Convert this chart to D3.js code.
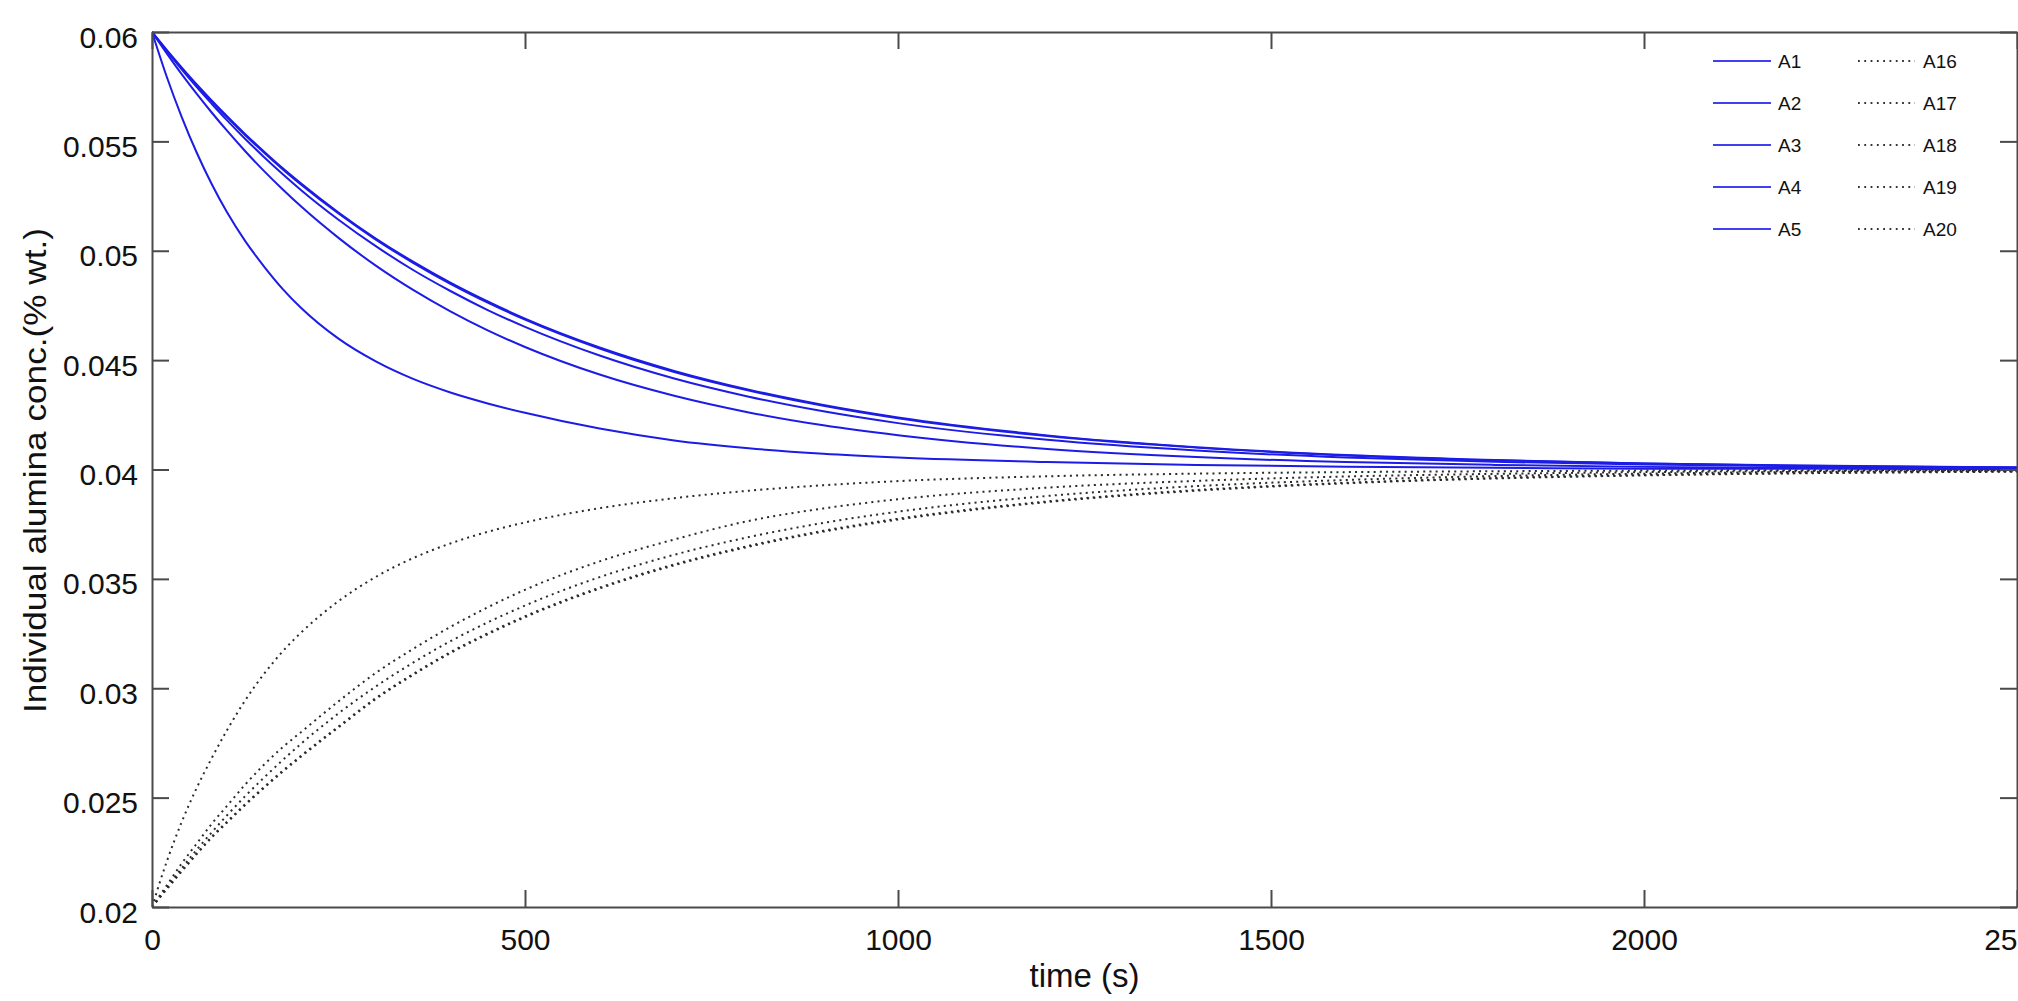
<!DOCTYPE html>
<html>
<head>
<meta charset="utf-8">
<script src="https://cdnjs.cloudflare.com/ajax/libs/d3/7.8.5/d3.min.js"></script>
<style>
  html, body { margin: 0; padding: 0; background: #fff; overflow: hidden; }
  #chart { width: 2018px; height: 1001px; overflow: hidden; }
  text { font-family: "Liberation Sans", Arial, Helvetica, sans-serif; fill: #111; }
</style>
</head>
<body>
<div id="chart"></div>
<script>
/*** DATA *********************************************************************/

const timeS = [0, 20, 40, 60, 80, 100, 125, 150, 175, 200, 250, 300, 350, 400,
  450, 500, 600, 700, 800, 900, 1000, 1200, 1400, 1600, 1800, 2000, 2250, 2500];

// blue solid series (start at 0.06)
const blueNames = ["A1", "A2", "A3", "A4", "A5"];
const a1 = [0.06, 0.05917, 0.05837, 0.0576, 0.05687, 0.05617, 0.05533, 0.05454, 0.05378, 0.05307,
  0.05175, 0.05056, 0.0495, 0.04854, 0.04768, 0.0469, 0.04558, 0.04451, 0.04365, 0.04295,
  0.04238, 0.04156, 0.04102, 0.04066, 0.04043, 0.04028, 0.04017, 0.0401];
const a2 = [0.06, 0.05914, 0.05833, 0.05756, 0.05683, 0.05612, 0.05528, 0.05449, 0.05373, 0.05302,
  0.0517, 0.05051, 0.04945, 0.04849, 0.04763, 0.04685, 0.04553, 0.04446, 0.04361, 0.04291,
  0.04234, 0.04153, 0.041, 0.04064, 0.04042, 0.04027, 0.04016, 0.04009];
const a3 = [0.06, 0.05912, 0.05828, 0.05748, 0.05672, 0.05598, 0.05511, 0.05429, 0.05351, 0.05277,
  0.05142, 0.05021, 0.04912, 0.04816, 0.04729, 0.04652, 0.04521, 0.04416, 0.04333, 0.04266,
  0.04212, 0.04136, 0.04087, 0.04055, 0.04035, 0.04023, 0.04013, 0.04007];
const a4 = [0.06, 0.05901, 0.05806, 0.05717, 0.05632, 0.05551, 0.05455, 0.05365, 0.05281, 0.05202,
  0.05059, 0.04932, 0.04821, 0.04723, 0.04636, 0.0456, 0.04434, 0.04337, 0.04261, 0.04202,
  0.04157, 0.04094, 0.04057, 0.04034, 0.04021, 0.04012, 0.04007, 0.04003];
const a5 = [0.06, 0.05793, 0.0561, 0.05448, 0.05305, 0.05179, 0.05044, 0.04929, 0.04826, 0.04738,
  0.04598, 0.04494, 0.04414, 0.04352, 0.04302, 0.04259, 0.04187, 0.04133, 0.04097, 0.04072,
  0.04055, 0.04034, 0.04021, 0.04013, 0.04008, 0.04004, 0.04003, 0.04002];

// black dotted series (start at 0.02)
const dottedNames = ["A16", "A17", "A18", "A19", "A20"];
const a16 = [0.02, 0.0221, 0.0239, 0.02545, 0.0268, 0.02805, 0.02945, 0.03065, 0.03168, 0.03255,
  0.03398, 0.03509, 0.03595, 0.03662, 0.03715, 0.03758, 0.03823, 0.03869, 0.03903, 0.03928,
  0.03947, 0.03969, 0.03981, 0.03988, 0.03992, 0.03995, 0.03997, 0.03998];
const a17 = [0.02, 0.021, 0.022, 0.0229, 0.0238, 0.0246, 0.0256, 0.0265, 0.0273, 0.028,
  0.0294, 0.0307, 0.0318, 0.0328, 0.0337, 0.0345, 0.0358, 0.0368, 0.03765, 0.03822,
  0.03864, 0.03917, 0.03948, 0.03968, 0.0398, 0.03988, 0.03993, 0.03996];
const a18 = [0.02, 0.02091, 0.02178, 0.02262, 0.02341, 0.02417, 0.02507, 0.02591, 0.02671, 0.02747,
  0.02885, 0.03008, 0.03117, 0.03215, 0.03301, 0.03378, 0.03508, 0.0361, 0.03691, 0.03756,
  0.03807, 0.03879, 0.03924, 0.03952, 0.0397, 0.03981, 0.0399, 0.03994];
const a19 = [0.02, 0.02085, 0.02167, 0.02246, 0.02321, 0.02388, 0.0247, 0.02548, 0.02622, 0.02692,
  0.02825, 0.02955, 0.03065, 0.03165, 0.03251, 0.03329, 0.0346, 0.03566, 0.03651, 0.0372,
  0.03775, 0.03854, 0.03906, 0.03939, 0.03961, 0.03975, 0.03985, 0.03991];
const a20 = [0.02, 0.02082, 0.02163, 0.02242, 0.02317, 0.02384, 0.02466, 0.02544, 0.02618, 0.02688,
  0.02821, 0.02951, 0.03061, 0.03161, 0.03247, 0.03325, 0.03456, 0.03562, 0.03647, 0.03716,
  0.03771, 0.03851, 0.03903, 0.03937, 0.03959, 0.03973, 0.03984, 0.0399];

const xTickValues = [0, 500, 1000, 1500, 2000, 2500];
const xTickLabels = ["0", "500", "1000", "1500", "2000", "2500"];
const yTickValues = [0.02, 0.025, 0.03, 0.035, 0.04, 0.045, 0.05, 0.055, 0.06];
const yTickLabels = ["0.02", "0.025", "0.03", "0.035", "0.04", "0.045", "0.05", "0.055", "0.06"];

const xLabel = "time (s)";
const yLabel = "Individual alumina conc.(% wt.)";

/*** CHART ********************************************************************/

function lineChart() {
  let
    width = 2018,
    height = 1001,
    plot = {left: 152, right: 2017, top: 32, bottom: 907},
    tickLen = 17,
    axisColor = "#4a4a4a",
    blueColor = "#1c1ce6",
    dotColor = "#2a2a2a"
    ;

  let svg = d3.select("#chart")
              .append("svg")
              .attr("width", width)
              .attr("height", height);

  let x = d3.scaleLinear().domain([0, 2500]).range([plot.left, plot.right]);
  let y = d3.scaleLinear().domain([0.02, 0.06]).range([plot.bottom, plot.top]);

  svg.append("clipPath").attr("id", "plotClip")
     .append("rect")
     .attr("x", plot.left).attr("y", plot.top - 2)
     .attr("width", plot.right - plot.left)
     .attr("height", plot.bottom - plot.top + 4);

  /* series lines */
  let line = d3.line()
               .x(function(d, i) { return x(timeS[i]); })
               .y(function(d) { return y(d); })
               .curve(d3.curveMonotoneX);

  let lines = svg.append("g").attr("clip-path", "url(#plotClip)");

  let dotted = [a16, a17, a18, a19, a20];
  let blue = [a1, a2, a3, a4, a5];

  lines.selectAll("path.dotted")
       .data(dotted)
       .enter().append("path")
       .attr("class", "dotted")
       .attr("d", line)
       .attr("fill", "none")
       .attr("stroke", dotColor)
       .attr("stroke-width", 2)
       .attr("stroke-dasharray", "2,4.2");

  lines.selectAll("path.blue")
       .data(blue)
       .enter().append("path")
       .attr("class", "blue")
       .attr("d", line)
       .attr("fill", "none")
       .attr("stroke", blueColor)
       .attr("stroke-width", 2);

  /* axes, ticks pointing inward on all four sides */
  function styleAxis(g) {
    g.selectAll(".domain").attr("stroke", axisColor).attr("stroke-width", 2);
    g.selectAll(".tick line").attr("stroke", axisColor).attr("stroke-width", 2);
    g.selectAll(".tick text")
     .attr("fill", "#111")
     .style("font-size", "30px")
     .style("font-family", "'Liberation Sans', Arial, sans-serif");
  }

  svg.append("g")
     .attr("transform", "translate(0," + plot.bottom + ")")
     .call(d3.axisBottom(x).tickValues(xTickValues)
             .tickFormat(function(d, i) { return xTickLabels[i]; })
             .tickSizeInner(-tickLen).tickSizeOuter(0).tickPadding(22))
     .call(styleAxis);

  svg.append("g")
     .attr("transform", "translate(0," + plot.top + ")")
     .call(d3.axisTop(x).tickValues(xTickValues).tickFormat("")
             .tickSizeInner(-tickLen).tickSizeOuter(0))
     .call(styleAxis);

  let yAxisG = svg.append("g")
     .attr("transform", "translate(" + plot.left + ",0)")
     .call(d3.axisLeft(y).tickValues(yTickValues)
             .tickFormat(function(d, i) { return yTickLabels[i]; })
             .tickSizeInner(-tickLen).tickSizeOuter(0).tickPadding(14))
     .call(styleAxis);
  yAxisG.selectAll(".tick text").attr("dy", "0.5em");

  svg.append("g")
     .attr("transform", "translate(" + plot.right + ",0)")
     .call(d3.axisRight(y).tickValues(yTickValues).tickFormat("")
             .tickSizeInner(-tickLen).tickSizeOuter(0))
     .call(styleAxis);

  /* axis titles */
  svg.append("text")
     .attr("x", (plot.left + plot.right) / 2)
     .attr("y", 987)
     .attr("text-anchor", "middle")
     .style("font-size", "33px")
     .text(xLabel);

  svg.append("text")
     .attr("transform", "translate(46," + ((plot.top + plot.bottom) / 2 + 1) + ") rotate(-90)")
     .attr("text-anchor", "middle")
     .attr("textLength", 485)
     .attr("lengthAdjust", "spacingAndGlyphs")
     .style("font-size", "31px")
     .text(yLabel);

  /* Legend */
  let legendRows = [61, 103, 145, 187, 229];

  let blueLeg = svg.selectAll(".legend-blue")
    .data(blueNames)
    .enter().append("g")
    .attr("class", "legend-blue")
    .attr("transform", function(d, i) { return "translate(1713," + legendRows[i] + ")"; });

  blueLeg.append("line")
    .attr("x1", 0).attr("x2", 58)
    .attr("stroke", "#4040ee")
    .attr("stroke-width", 2.2);

  blueLeg.append("text")
    .attr("x", 65).attr("y", 7)
    .style("font-size", "19px")
    .text(function(d) { return d; });

  let dotLeg = svg.selectAll(".legend-dot")
    .data(dottedNames)
    .enter().append("g")
    .attr("class", "legend-dot")
    .attr("transform", function(d, i) { return "translate(1858," + legendRows[i] + ")"; });

  dotLeg.append("line")
    .attr("x1", 0).attr("x2", 57)
    .attr("stroke", "#333")
    .attr("stroke-width", 1.8)
    .attr("stroke-dasharray", "1.8,4.5");

  dotLeg.append("text")
    .attr("x", 65).attr("y", 7)
    .style("font-size", "19px")
    .text(function(d) { return d; });
}

lineChart();
</script>
</body>
</html>
